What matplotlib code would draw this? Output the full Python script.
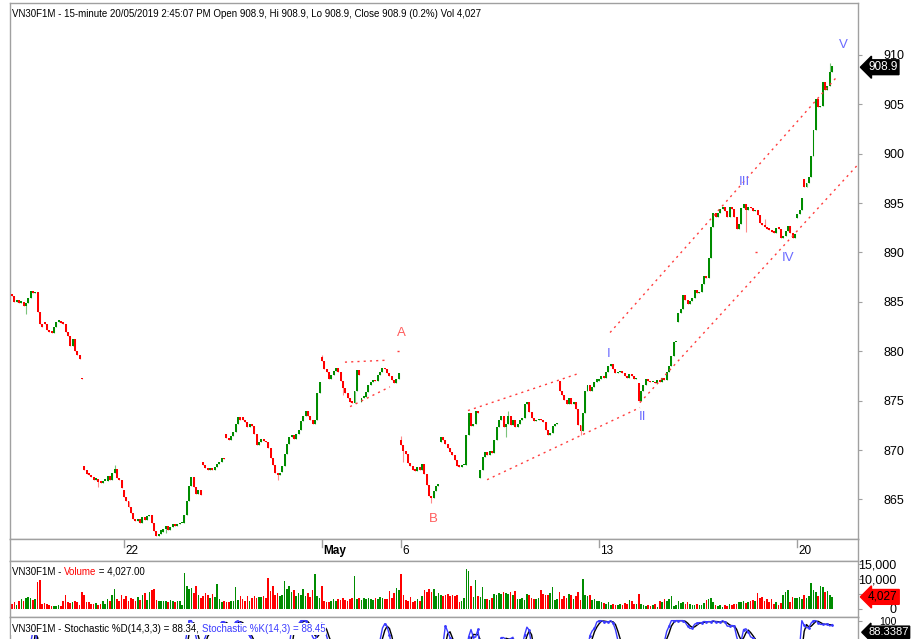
"""VN30F1M 15-minute chart (AmiBroker style) with Elliott wave marks. Output: out.png"""
import numpy as np
import pandas as pd
import matplotlib
matplotlib.use("Agg")
import matplotlib.pyplot as plt
from matplotlib.transforms import blended_transform_factory

plt.rcParams["font.family"] = ["Liberation Sans Narrow", "Liberation Sans", "DejaVu Sans"]

W, H = 918, 639
GREEN, RED, BORDER = "#008c00", "#ff0000", "#a0a0a0"
WAVE_RED, WAVE_BLUE = "#ff5c5c", "#6b6bff"

# trading days on screen; only some of them get a date label
day_labels = {3: "22", 8: "May", 10: "6", 15: "13", 20: "20"}

# opening price of the first bar of each day (the rest open at the previous close)
day_opens = [885.8, 882.9, 868.4, 866.0, 861.7, 868.8, 873.3, 867.8, 879.4, 874.9, 871.0,
             870.8, 867.2, 872.6, 877.0, 877.0, 876.8, 883.0, 893.6, 894.3, 893.5]
# bars whose open is not the previous close
bar_opens = {30: 877.3, 92: 871.6, 340: 897.4}

# 15-minute closes, one list per day (17 Apr .. 20 May 2019)
closes = [
    [885.6, 885.0, 885.2, 884.9, 885.0, 884.6, 884.9, 885.4, 886.1, 885.9, 886.0, 884.0, 882.8, 882.5],
    [882.8, 882.2, 882.0, 881.9, 882.5, 883.0, 883.1, 882.9, 882.8, 882.0, 881.5, 880.5, 881.2, 880.0, 879.6, 879.2, 877.2],
    [868.0, 867.6, 867.5, 867.3, 867.0, 867.1, 866.8, 866.7, 866.9, 866.9, 867.4, 867.0, 867.7, 868.1, 867.2, 867.0, 866.2],
    [865.3, 864.8, 864.2, 863.6, 863.0, 862.8, 863.0, 862.6, 863.2, 862.9, 863.3, 863.4, 862.6, 861.8, 861.3, 861.5, 861.9],
    [862.0, 862.3, 861.9, 862.2, 862.5, 862.3, 862.5, 862.6, 862.6, 863.4, 864.8, 866.4, 867.3, 866.3, 865.6, 866.0, 865.5],
    [868.5, 868.2, 868.0, 868.1, 868.0, 868.3, 868.6, 868.8, 869.2, 869.1, 871.2, 871.0, 871.4, 871.8, 872.6, 873.3, 873.0],
    [873.0, 872.8, 872.3, 872.6, 872.4, 871.6, 870.5, 870.8, 871.1, 870.9, 870.8, 870.2, 869.2, 868.5, 867.7, 867.5, 867.6],
    [868.4, 869.6, 870.6, 871.3, 871.5, 871.1, 871.6, 872.0, 872.9, 873.4, 874.0, 873.4, 873.0, 872.6, 873.0, 875.8, 876.9],
    [879.0, 878.2, 877.9, 877.2, 877.6, 878.0, 878.3, 877.9, 877.0, 876.3, 875.8, 875.3, 874.9, 874.8, 876.0, 878.1, 877.6],
    [875.3, 875.4, 875.9, 876.6, 876.9, 877.1, 877.0, 877.6, 877.9, 878.3, 878.2, 877.8, 877.5, 877.1, 876.8, 877.2, 877.8],
    [870.5, 869.9, 869.6, 868.7, 868.4, 868.0, 867.9, 868.3, 868.0, 868.6, 867.6, 866.5, 865.4, 865.2, 865.9, 866.4, 866.5],
    [871.3, 871.0, 870.6, 870.2, 869.8, 869.5, 869.0, 868.4, 868.3, 868.5, 868.5, 871.5, 873.8, 872.4, 872.6, 874.0, 873.8],
    [868.0, 869.3, 869.8, 869.5, 869.9, 869.7, 871.0, 872.3, 873.0, 873.4, 872.3, 872.6, 873.4, 872.5, 873.0, 872.3, 872.6],
    [873.0, 873.2, 874.7, 874.9, 873.9, 873.2, 872.9, 873.0, 873.1, 873.0, 872.8, 872.0, 871.5, 871.7, 872.4, 872.6, 872.7],
    [876.0, 875.6, 875.1, 874.7, 875.3, 874.7, 874.9, 874.2, 872.5, 871.9, 873.8, 876.0, 876.6, 876.0, 876.4, 876.9, 877.2],
    [877.2, 877.5, 877.3, 877.9, 878.5, 878.7, 878.2, 877.8, 877.9, 878.0, 877.8, 877.5, 877.3, 877.7, 877.5, 877.2, 877.3],
    [875.0, 876.0, 876.6, 877.2, 877.0, 876.9, 876.9, 876.8, 877.1, 876.9, 877.3, 877.1, 877.9, 878.5, 879.5, 880.9, 880.9],
    [883.9, 884.3, 885.7, 885.2, 884.8, 885.1, 885.4, 886.2, 885.9, 886.0, 886.8, 887.6, 887.4, 889.4, 892.6, 894.0, 893.6],
    [894.0, 894.4, 894.6, 894.2, 893.6, 894.6, 894.4, 893.6, 892.4, 892.9, 894.5, 894.9, 894.3, 894.6, 894.5, 894.2, 894.3],
    [893.8, 893.0, 892.8, 892.6, 892.4, 892.3, 892.1, 892.0, 892.5, 892.4, 891.5, 891.7, 892.2, 892.7, 892.0, 891.5, 891.9],
    [893.9, 894.3, 895.5, 896.6, 897.0, 897.6, 899.8, 902.4, 905.5, 904.7, 904.8, 907.3, 906.4, 906.8, 908.3, 908.9],
]

# volume per bar, thousands of contracts
volumes = [
    [1.6, 2.2, 1.4, 2.5, 3.4, 2.6, 3.8, 4.0, 3.5, 3.1, 3.2, 9.0, 9.6, 1.5],
    [2.0, 1.6, 1.2, 1.0, 1.1, 0.9, 1.3, 1.0, 2.6, 4.8, 2.4, 2.0, 2.3, 2.5, 2.2, 1.4, 5.6],
    [4.6, 2.2, 2.4, 1.8, 1.6, 2.0, 1.3, 1.5, 2.6, 1.8, 3.2, 2.6, 4.5, 6.8, 3.4, 2.8, 4.6],
    [3.4, 4.4, 2.6, 3.8, 3.2, 2.7, 4.0, 3.0, 4.6, 5.2, 3.0, 5.6, 6.2, 6.6, 3.0, 2.6, 2.8],
    [2.5, 2.8, 2.4, 3.0, 2.6, 2.2, 2.7, 2.5, 1.4, 12.0, 7.6, 6.8, 7.0, 5.2, 7.8, 4.6, 3.8],
    [4.2, 5.4, 4.6, 3.6, 5.0, 4.0, 8.4, 3.4, 2.2, 2.6, 2.4, 2.3, 2.7, 2.5, 7.2, 3.0, 4.4],
    [3.2, 2.6, 4.4, 2.8, 3.6, 4.2, 3.8, 4.0, 3.9, 4.3, 3.6, 10.2, 6.0, 7.6, 4.8, 5.4, 4.4],
    [4.6, 9.4, 6.8, 7.6, 5.8, 6.2, 4.2, 5.4, 4.8, 6.6, 4.4, 5.2, 4.0, 6.2, 11.6, 4.4, 3.6],
    [7.8, 2.6, 2.4, 2.2, 2.8, 3.2, 2.6, 3.4, 3.0, 3.5, 3.1, 2.8, 3.2, 3.6, 11.0, 3.2, 3.8],
    [3.0, 3.6, 3.2, 3.8, 3.4, 3.0, 3.6, 3.3, 4.0, 3.5, 3.2, 3.4, 6.0, 3.8, 5.2, 7.0, 6.2],
    [11.6, 4.6, 3.0, 2.6, 4.0, 2.4, 2.6, 3.2, 2.8, 4.4, 6.4, 5.6, 6.8, 5.8, 6.6, 4.2, 5.4],
    [4.8, 4.2, 4.6, 5.0, 4.4, 4.6, 4.2, 4.8, 2.4, 2.6, 3.6, 13.4, 12.8, 7.8, 4.0, 9.6, 4.2],
    [4.0, 7.4, 3.2, 3.4, 3.0, 3.6, 5.0, 4.8, 5.2, 5.0, 5.6, 5.4, 5.0, 5.6, 4.6, 6.0, 3.4],
    [3.2, 3.8, 3.0, 5.0, 4.8, 3.6, 3.4, 3.2, 3.6, 6.2, 5.0, 4.6, 4.8, 5.2, 7.4, 3.0, 3.2],
    [5.6, 3.2, 4.4, 3.6, 5.0, 4.8, 3.2, 4.4, 5.6, 3.0, 10.0, 4.8, 4.2, 4.6, 3.0, 3.2, 2.8],
    [2.6, 2.4, 2.0, 1.6, 2.2, 1.4, 1.8, 1.2, 1.4, 1.6, 1.3, 2.0, 1.5, 3.0, 2.8, 1.6, 1.8],
    [5.0, 1.8, 1.2, 1.0, 1.4, 0.9, 1.2, 1.6, 0.8, 2.6, 2.2, 3.2, 2.8, 3.4, 4.2, 1.0, 1.2],
    [2.6, 2.0, 2.4, 1.8, 2.2, 1.6, 1.4, 1.2, 1.6, 1.4, 1.2, 2.0, 3.0, 3.4, 3.6, 2.2, 1.4],
    [1.0, 1.3, 0.8, 1.2, 1.0, 1.6, 1.4, 1.8, 1.5, 2.2, 2.4, 2.6, 2.0, 2.4, 2.5, 3.0, 2.8],
    [5.4, 3.6, 4.0, 2.6, 3.2, 2.4, 3.4, 1.8, 2.2, 1.4, 2.0, 4.6, 5.6, 6.2, 2.4, 4.0, 3.6],
    [3.6, 4.0, 3.4, 4.6, 3.8, 4.4, 8.6, 6.2, 5.8, 4.2, 7.6, 7.2, 5.8, 6.0, 4.6, 4.027],
]

# the few long shadows worth drawing (bar -> price)
wick_lo = {6: 883.8, 37: 866.3, 66: 861.6, 114: 867.0, 142: 875.6, 168: 868.8,
           180: 864.6, 212: 871.3, 244: 871.5, 315: 892.1}
wick_hi = {44: 868.5, 133: 879.6, 167: 871.4, 213: 874.0, 323: 893.4, 351: 909.2}

# hand drawn red dotted lines: (bar, price) -> (bar, price)
trendlines = [((142.9, 878.9), (161.4, 879.1)), ((145.1, 874.4), (162.2, 876.4)),
              ((165.2, 880.0), (166.5, 880.0)), ((195.7, 874.0), (243.8, 877.8)),
              ((203.9, 867.0), (269.5, 874.3)), ((256.7, 881.9), (354.5, 907.9)),
              ((269.5, 874.8), (363.1, 898.9)), ((318.9, 890.0), (320.6, 890.0))]

# wave counts: text, bar, price, colour
waves = [("A", 167.0, 881.9, WAVE_RED), ("B", 180.7, 863.0, WAVE_RED),
         ("I", 256.2, 879.7, WAVE_BLUE), ("II", 270.4, 873.3, WAVE_BLUE),
         ("III", 314.2, 897.1, WAVE_BLUE), ("IV", 333.0, 889.4, WAVE_BLUE),
         ("V", 356.7, 911.0, WAVE_BLUE)]

close = np.concatenate([np.array(d, float) for d in closes])
vol = np.concatenate([np.array(v, float) for v in volumes]) * 1000
starts = np.cumsum([0] + [len(d) for d in closes[:-1]])
opn = np.r_[close[0], close[:-1]]
opn[starts] = day_opens
for i, p in bar_opens.items():
    opn[i] = p
hi, lo = np.maximum(opn, close), np.minimum(opn, close)
for i, p in wick_hi.items():
    hi[i] = max(hi[i], p)
for i, p in wick_lo.items():
    lo[i] = min(lo[i], p)
idx = np.arange(len(close))
up = close >= opn
col = np.where(up, GREEN, RED)

# stochastic %K(14,3) and %D(14,3,3)
hh = pd.Series(hi).rolling(14, min_periods=1).max()
ll = pd.Series(lo).rolling(14, min_periods=1).min()
raw = 100 * (pd.Series(close) - ll) / (hh - ll).replace(0, np.nan)
stk = raw.rolling(3, min_periods=1).mean()
std = stk.rolling(3, min_periods=1).mean()

fig = plt.figure(figsize=(W / 100, H / 100), dpi=100)


def box(x0, y0, x1, y1):
    return [x0 / W, 1 - y1 / H, (x1 - x0) / W, (y1 - y0) / H]


ax = fig.add_axes(box(10, 3, 858, 539))
axd = fig.add_axes(box(10, 539, 858, 561))
axv = fig.add_axes(box(10, 561, 858, 617))
axs = fig.add_axes(box(10, 617, 858, 720))
XL = (-0.86, 363.1)
for a in (ax, axd, axv, axs):
    a.set_xlim(*XL)
    a.set_xticks([])
    for s in a.spines.values():
        s.set_color(BORDER)
        s.set_linewidth(1)

# price panel
ax.vlines(idx, lo, hi, colors=np.where(up, "#7cc47c", "#ff8a8a"), lw=0.8, zorder=2)
ax.bar(idx, np.maximum(np.abs(close - opn), 0.14), bottom=np.minimum(opn, close),
       width=0.85, color=col, lw=0, zorder=3)
for (x0, y0), (x1, y1) in trendlines:
    ax.plot([x0, x1], [y0, y1], color="#ff3c3c", lw=1, ls=(0, (1.5, 3)), zorder=4)
for t, x, y, c in waves:
    ax.text(x, y, t, color=c, fontsize=9.5, ha="center", va="center", zorder=5)
ax.set_ylim(861.0, 915.25)
ax.yaxis.tick_right()
ax.set_yticks(range(865, 911, 5))
ax.tick_params(axis="y", direction="out", length=3, color=BORDER, pad=30.5, labelsize=9)
for l in ax.get_yticklabels():
    l.set_ha("right")
tr = blended_transform_factory(ax.transAxes, ax.transData)
ax.text(1.012, close[-1] - 0.15, "908.9", transform=tr, color="white", fontsize=8.5,
        va="center", ha="left", bbox=dict(boxstyle="larrow,pad=0.12", fc="black", ec="black"),
        zorder=6, clip_on=False)

# date strip
axd.set_yticks([])
axd.set_ylim(0, 1)
for d, lab in day_labels.items():
    i0 = starts[d]
    axd.plot([i0, i0], [0.64, 1.0], color=BORDER, lw=1)
    axd.text(i0 + 0.6, 0.45, lab, fontsize=8.5, va="center", ha="left",
             fontweight="bold" if lab == "May" else "normal")

# volume panel
axv.bar(idx, vol, width=0.7, color=col, lw=0)
axv.set_ylim(-2670, 16000)
axv.yaxis.tick_right()
axv.set_yticks([0, 5000, 10000, 15000], ["0", "", "10,000", "15,000"])
axv.tick_params(axis="y", direction="out", length=3, color=BORDER, pad=24.5, labelsize=9)
for l in axv.get_yticklabels():
    l.set_ha("right")
trv = blended_transform_factory(axv.transAxes, axv.transData)
axv.text(1.012, vol[-1], "4,027", transform=trv, color="black", fontsize=8.5, va="center",
         ha="left", bbox=dict(boxstyle="larrow,pad=0.12", fc=RED, ec=RED), zorder=6,
         clip_on=False)

# stochastic panel (only its top is on screen)
axs.plot(idx, std, color="black", lw=1)
axs.plot(idx, stk, color="#3b3bff", lw=1, marker=".", ms=2, markevery=2)
axs.set_ylim(5, 103.5)
axs.yaxis.tick_right()
axs.set_yticks([100], ["100"])
axs.tick_params(axis="y", direction="out", length=3, color=BORDER, pad=24.5, labelsize=7.5)
for l in axs.get_yticklabels():
    l.set_ha("right")
# last-value tag, kept inside the picture just above the cut
axs.text(1.012, 0.852, "88.3387", transform=axs.transAxes, color="white", fontsize=8,
         va="center", ha="left", bbox=dict(boxstyle="larrow,pad=0.1", fc="black", ec="black"),
         zorder=6, clip_on=False)

# panel captions
rend = fig.canvas.get_renderer()


def rich(x, y, parts, size=7.0, bg=None):
    done = ""
    for s, c in parts:
        if done:
            w = fig.text(0, 0, done + ".", fontsize=size).get_window_extent(rend).width
            w0 = fig.text(0, 0, ".", fontsize=size).get_window_extent(rend).width
            fig.texts[-2:] = []
            xx = x + w - w0
        else:
            xx = x
        t = fig.text(xx / W, 1 - y / H, s, color=c, fontsize=size, ha="left", va="center",
                     zorder=10)
        if bg:
            t.set_bbox(dict(fc=bg, ec="none", pad=0.5))
        done += s


rich(12, 14, [("VN30F1M - 15-minute 20/05/2019 2:45:07 PM Open 908.9, Hi 908.9, Lo 908.9, "
               "Close 908.9 (0.2%) Vol 4,027", "black")])
rich(12, 572, [("VN30F1M - ", "black"), ("Volume", RED), (" = 4,027.00", "black")])
rich(12, 629, [("VN30F1M - Stochastic %D(14,3,3) = 88.34, ", "black"),
               ("Stochastic %K(14,3) = 88.45", "#3b3bff")], bg="white")

fig.savefig("out.png", dpi=100, facecolor="white")
